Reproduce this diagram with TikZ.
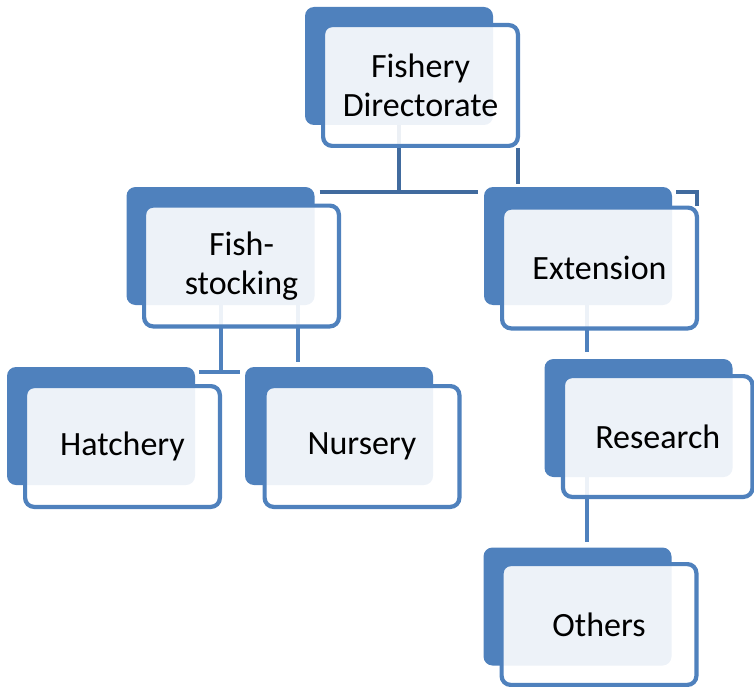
\documentclass[tikz,border=0pt]{standalone}
\usepackage{fontspec}
\setmainfont{Carlito}
\usetikzlibrary{backgrounds,calc}
\definecolor{boxblue}{RGB}{79,129,189}
\definecolor{linkblue}{RGB}{65,107,158}
\tikzset{back/.style={rectangle,rounded corners=9pt,fill=boxblue,minimum width=188pt,minimum height=118pt,inner sep=0pt},
front/.style={rectangle,rounded corners=9pt,draw=boxblue,line width=4.2pt,fill=white,fill opacity=.9,text opacity=1,minimum width=194.8pt,minimum height=120.8pt,inner sep=0pt,align=center,font=\fontsize{34}{39}\selectfont},
link/.style={draw=linkblue,line width=4pt},sublink/.style={draw=boxblue,line width=4pt}}

\begin{document}
\begin{tikzpicture}[x=1pt,y=-1pt]
\useasboundingbox (0,0) rectangle (754,687);
\node[back] (fisheryback) at (399,66) {};
\node[front] (fishery) at (420.5,85.5) {Fishery\\Directorate};
\node[back] (stockingback) at (220.5,246) {};
\node[front] (stocking) at (241.5,266) {Fish-\\stocking};
\node[back] (extensionback) at (578,246) {};
\node[front] (extension) at (599.5,268) {Extension};
\node[back] (hatcheryback) at (101,426) {};
\node[front] (hatchery) at (122.5,446.5) {Hatchery};
\node[back] (nurseryback) at (339,426) {};
\node[front] (nursery) at (362,446.5) {Nursery};
\node[back] (researchback) at (638.5,418) {};
\node[front,minimum width=189.5pt] (research) at (657.75,436.5) {Research};
\node[back] (othersback) at (577.5,606.5) {};
\node[front] (others) at (599,624.5) {Others};
\coordinate (topbar) at (399,192);
\coordinate (stockbar) at (220.5,372);
\begin{scope}[on background layer]
\draw[link] (fisheryback.south) -- (topbar);
\draw[link] ($(stockingback.east |- topbar)+(5,0)$) -- ($(extensionback.west |- topbar)+(-6,0)$);
\draw[link] ([xshift=-2pt]fishery.south east) -- ++(0,36);
\draw[link] ($(extensionback.east |- topbar)+(4,0)$) -- ($(extension.east |- topbar)+(-2,0)$) -- ([xshift=-2pt]extension.north east);
\draw[sublink] (stockingback.south) -- (stockbar);
\draw[sublink] ($(hatcheryback.east |- stockbar)+(4,0)$) -- ($(nurseryback.west |- stockbar)+(-5,0)$);
\draw[sublink] ($(stockingback.south)+(77.5,0)$) -- ++(0,57);
\draw[sublink] ($(extensionback.south)+(9,0)$) -- ++(0,47);
\draw[sublink] ($(researchback.south)+(-51.5,0)$) -- ++(0,65);
\end{scope}
\end{tikzpicture}
\end{document}
